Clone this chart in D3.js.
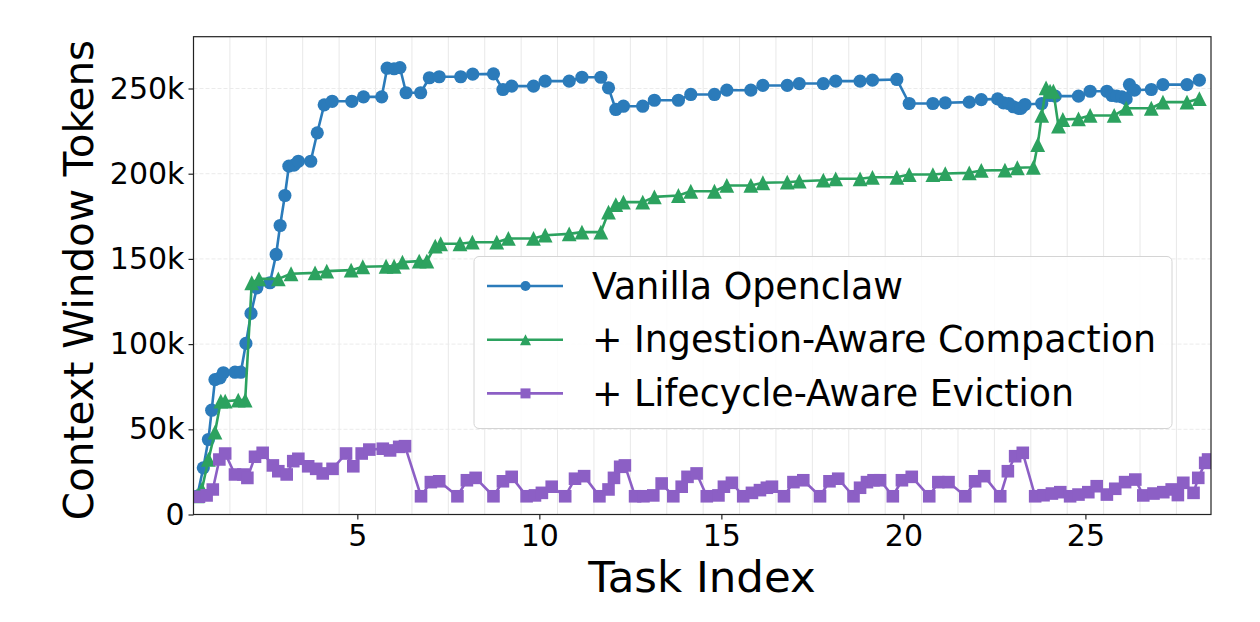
<!DOCTYPE html>
<html>
<head>
<meta charset="utf-8">
<script src="https://cdn.jsdelivr.net/npm/d3@7"></script>
<style>
  html, body { margin: 0; padding: 0; background: #fff; }
  svg { display: block; font-family: "DejaVu Sans", sans-serif; }
</style>
</head>
<body>
<svg id="chart" width="1260" height="622"></svg>
<script>
// ---- data (token counts in thousands) ----
const seriesNames = ["Vanilla Openclaw", "+ Ingestion-Aware Compaction", "+ Lifecycle-Aware Eviction"];

const vanillaX = [0.60,0.77,0.91,1.00,1.09,1.23,1.32,1.64,1.80,1.94,2.08,2.24,2.60,2.77,2.88,3.01,3.12,3.26,3.38,3.72,3.90,4.09,4.31,4.85,5.17,5.67,5.82,6.01,6.17,6.34,6.74,6.98,7.25,7.84,8.17,8.74,9.00,9.24,9.84,10.16,10.82,11.17,11.69,11.90,12.10,12.31,12.84,13.16,13.82,14.16,14.81,15.15,15.81,16.14,16.81,17.14,17.80,18.14,18.81,19.15,19.82,20.16,20.81,21.15,21.81,22.14,22.59,22.75,22.89,23.02,23.16,23.23,23.34,23.80,24.03,24.17,24.81,25.13,25.59,25.73,25.86,26.00,26.12,26.21,26.35,26.81,27.13,27.79,28.13];
const vanillaY = [10.6,27.4,44.0,61.2,79.2,80.2,83.2,83.5,83.5,100.4,118.0,133.0,136.0,152.6,169.6,187.2,204.4,205.0,207.3,207.3,224.0,240.4,242.5,242.5,245.1,245.1,261.9,261.6,262.3,247.5,247.5,256.3,256.9,256.9,258.4,258.6,249.4,251.4,251.4,254.3,254.3,256.6,256.6,250.4,237.7,239.6,239.6,243.1,243.1,246.5,246.5,249.0,249.0,251.8,251.8,252.9,252.9,254.3,254.3,254.9,255.3,241.2,241.2,241.6,242.0,243.5,243.9,241.6,241.2,239.3,238.3,238.3,240.6,241.2,245.9,245.5,245.5,248.4,248.4,245.9,245.5,245.1,243.9,252.3,249.0,249.4,252.3,252.3,254.9];

const ingestionX = [0.60,0.73,0.91,1.09,1.25,1.37,1.73,1.92,2.10,2.30,2.83,3.18,3.84,4.16,4.83,5.15,5.79,6.01,6.24,6.70,6.91,7.14,7.29,7.82,8.16,8.83,9.15,9.84,10.16,10.82,11.17,11.69,11.90,12.10,12.31,12.84,13.16,13.82,14.16,14.81,15.15,15.81,16.14,16.81,17.14,17.80,18.14,18.81,19.15,19.82,20.16,20.81,21.15,21.81,22.14,22.79,23.13,23.57,23.69,23.80,23.92,24.03,24.12,24.26,24.38,24.81,25.13,25.79,26.12,26.81,27.13,27.79,28.13];
const ingestionY = [11.0,14.7,32.3,48.3,66.5,66.5,67.1,67.1,136.0,138.3,138.3,141.3,141.8,142.8,143.4,145.4,145.7,145.7,148.1,148.7,148.7,157.5,158.9,158.9,159.8,159.8,162.0,162.0,163.9,164.7,165.7,165.7,177.4,181.9,183.3,183.3,186.4,187.2,189.7,189.7,193.1,193.1,194.7,195.0,195.6,196.2,197.0,197.0,197.9,197.9,199.5,199.5,200.1,200.5,201.9,202.1,203.5,203.8,217.1,234.2,250.4,248.4,248.4,227.9,231.8,232.2,234.2,234.2,238.4,238.4,242.0,242.0,244.1];

const lifecycleX = [0.65,0.86,1.03,1.21,1.37,1.64,1.87,1.98,2.19,2.40,2.68,2.83,3.06,3.24,3.38,3.65,3.87,4.05,4.32,4.69,4.89,5.12,5.33,5.70,5.90,6.15,6.31,6.75,7.02,7.25,7.75,8.01,8.25,8.74,9.00,9.24,9.65,9.88,10.07,10.34,10.71,10.98,11.23,11.65,11.90,12.05,12.22,12.35,12.63,12.86,13.13,13.36,13.68,13.91,14.07,14.32,14.60,14.92,15.07,15.29,15.60,15.84,16.06,16.25,16.39,16.72,16.98,17.25,17.71,17.97,18.21,18.63,18.81,19.00,19.18,19.36,19.71,19.96,20.23,20.71,20.96,21.24,21.70,21.97,22.22,22.66,22.87,23.07,23.28,23.62,23.85,24.08,24.31,24.58,24.81,25.08,25.31,25.59,25.82,26.09,26.37,26.59,26.87,27.14,27.37,27.54,27.69,27.97,28.10,28.29,28.37];
const lifecycleY = [10.4,11.2,14.7,32.3,35.8,23.5,23.5,21.5,33.9,36.2,28.8,25.4,23.5,31.3,32.7,28.3,26.8,24.1,26.8,35.8,28.3,35.8,38.1,38.6,37.6,39.7,40.1,10.7,19.0,19.5,10.7,20.1,21.5,10.7,19.5,22.1,10.7,11.2,12.7,16.3,10.7,21.0,22.5,10.7,14.7,21.5,28.0,28.8,10.7,10.7,11.2,18.2,10.7,16.3,22.1,24.1,10.7,11.2,16.3,18.6,10.7,12.7,14.3,15.7,16.3,10.7,19.0,20.1,10.7,19.5,21.0,10.7,15.7,19.0,20.1,20.1,10.7,20.1,22.1,10.7,19.0,19.0,10.7,19.5,22.5,10.7,25.4,34.2,36.2,10.7,11.3,12.3,13.1,10.7,11.7,13.1,16.6,11.7,15.1,19.0,20.5,11.2,12.3,13.1,14.7,11.4,18.6,12.7,21.5,30.3,32.3];

const xTicks = [5, 10, 15, 20, 25];
const xTickLabels = ["5", "10", "15", "20", "25"];
const yTicks = [0, 50, 100, 150, 200, 250];
const yTickLabels = ["0", "50k", "100k", "150k", "200k", "250k"];

// ---- layout ----
const W = 1260, H = 622;
const plot = { left: 193.5, right: 1211, top: 36.7, bottom: 514.5 };
const colors = ["#2b7bba", "#2ca25f", "#8c5fc5"];
const markers = ["circle", "triangle", "square"];

const svg = d3.select("#chart");
svg.append("rect").attr("width", W).attr("height", H).attr("fill", "#fff");

const x = d3.scaleLinear().domain([0.5, 28.45]).range([plot.left, plot.right]);
const y = d3.scaleLinear().domain([0, 280.4]).range([plot.bottom, plot.top]);

// grid
const grid = svg.append("g");
const vGrid = d3.range(1.5, 28.45, 1);
grid.selectAll("line.v").data(vGrid).join("line")
  .attr("x1", d => x(d)).attr("x2", d => x(d))
  .attr("y1", plot.top).attr("y2", plot.bottom)
  .attr("stroke", "#e8e8e8").attr("stroke-width", 1);
grid.selectAll("line.h").data(yTicks).join("line")
  .attr("x1", plot.left).attr("x2", plot.right)
  .attr("y1", d => y(d)).attr("y2", d => y(d))
  .attr("stroke", "#ebebeb").attr("stroke-width", 1).attr("stroke-dasharray", "4,2");

// symbol helper
function markerPath(type, s) {
  if (type === "circle") return d3.symbol(d3.symbolCircle, Math.PI * s * s)();
  if (type === "square") return `M${-s},${-s}H${s}V${s}H${-s}Z`;
  return `M0,${-s}L${s},${s}L${-s},${s}Z`;
}
const markerSize = [6.6, 7.4, 6.3];

const allX = [vanillaX, ingestionX, lifecycleX];
const allY = [vanillaY, ingestionY, lifecycleY];

svg.append("clipPath").attr("id", "clip").append("rect")
  .attr("x", plot.left).attr("y", plot.top - 10)
  .attr("width", plot.right - plot.left).attr("height", plot.bottom - plot.top + 10);

const dataG = svg.append("g").attr("clip-path", "url(#clip)");
const line = d3.line().x(d => x(d[0])).y(d => y(d[1]));
allX.forEach((xs, i) => {
  const pts = xs.map((v, j) => [v, allY[i][j]]);
  const g = dataG.append("g");
  g.append("path").attr("d", line(pts)).attr("fill", "none")
    .attr("stroke", colors[i]).attr("stroke-width", 2.6).attr("stroke-linejoin", "round");
  g.selectAll("path.m").data(pts).join("path")
    .attr("class", "m")
    .attr("transform", d => `translate(${x(d[0])},${y(d[1])})`)
    .attr("d", markerPath(markers[i], markerSize[i]))
    .attr("fill", colors[i]);
});

// frame
svg.append("rect").attr("x", plot.left).attr("y", plot.top)
  .attr("width", plot.right - plot.left).attr("height", plot.bottom - plot.top)
  .attr("fill", "none").attr("stroke", "#222").attr("stroke-width", 1.2);

// axes
const xAxis = d3.axisBottom(x).tickValues(xTicks).tickFormat((d, i) => xTickLabels[i])
  .tickSize(5).tickPadding(5);
const gx = svg.append("g").attr("transform", `translate(0,${plot.bottom})`).call(xAxis);
gx.select(".domain").remove();
gx.selectAll("text").attr("font-size", 30).attr("fill", "#000").attr("font-family", "DejaVu Sans");
gx.selectAll("line").attr("stroke", "#222").attr("stroke-width", 1.2);

const yAxis = d3.axisLeft(y).tickValues(yTicks).tickFormat((d, i) => yTickLabels[i])
  .tickSize(5).tickPadding(4);
const gy = svg.append("g").attr("transform", `translate(${plot.left},0)`).call(yAxis);
gy.select(".domain").remove();
gy.selectAll("text").attr("font-size", 30).attr("fill", "#000").attr("font-family", "DejaVu Sans");
gy.selectAll("line").attr("stroke", "#222").attr("stroke-width", 1.2);

// axis titles
svg.append("text").attr("x", 702).attr("y", 592)
  .attr("text-anchor", "middle").attr("font-size", 43.5).attr("fill", "#000")
  .text("Task Index");
svg.append("text").attr("transform", "translate(93,280) rotate(-90)")
  .attr("text-anchor", "middle").attr("font-size", 40.5).attr("fill", "#000")
  .text("Context Window Tokens");

// legend
const lg = svg.append("g").attr("transform", "translate(474,256.5)");
lg.append("rect").attr("width", 698).attr("height", 172).attr("rx", 5)
  .attr("fill", "#fff").attr("fill-opacity", 0.85)
  .attr("stroke", "#d4d4d4").attr("stroke-width", 1);
const legendMarker = [5, 5.5, 5];
seriesNames.forEach((name, i) => {
  const cy = 29.5 + i * 53.7;
  lg.append("line").attr("x1", 13).attr("x2", 89).attr("y1", cy).attr("y2", cy)
    .attr("stroke", colors[i]).attr("stroke-width", 2.6);
  lg.append("path").attr("transform", `translate(51.5,${cy})`)
    .attr("d", markerPath(markers[i], legendMarker[i])).attr("fill", colors[i]);
  lg.append("text").attr("x", 118).attr("y", cy + 12.7)
    .attr("font-size", 36.4).attr("fill", "#000").text(name);
});
</script>
</body>
</html>
